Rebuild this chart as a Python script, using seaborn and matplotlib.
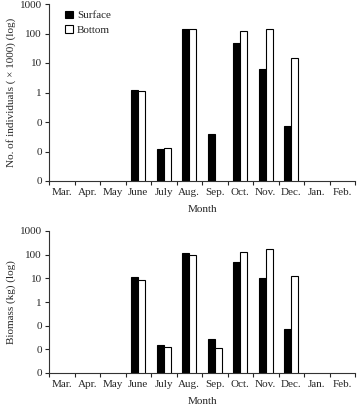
import matplotlib
matplotlib.use("Agg")
import matplotlib.pyplot as plt
from matplotlib.patches import Patch
from matplotlib.ticker import FixedLocator, FixedFormatter
import numpy as np
import pandas as pd
import seaborn as sns

# ---- data ----
months = ["Mar.", "Apr.", "May", "June", "July", "Aug.", "Sep.", "Oct.", "Nov.", "Dec.", "Jan.", "Feb."]
nan = np.nan

ind_surface = [nan, nan, nan, 1.17, 0.0117, 144, 0.038, 47, 6.5, 0.072, nan, nan]
ind_bottom = [nan, nan, nan, 1.1, 0.013, 137, nan, 126, 144, 14.4, nan, nan]

bio_surface = [nan, nan, nan, 11.8, 0.015, 118, 0.027, 47, 10.3, 0.075, nan, nan]
bio_bottom = [nan, nan, nan, 8.6, 0.013, 97, 0.011, 134, 179, 12.6, nan, nan]

ytick_vals = [0.001, 0.01, 0.1, 1, 10, 100, 1000]
ytick_labels = ["0", "0", "0", "1", "10", "100", "1000"]

layers = ["Surface", "Bottom"]
colors = {"Surface": "black", "Bottom": "white"}


def long_df(surface, bottom):
    rows = []
    for m, s, b in zip(months, surface, bottom):
        rows.append({"Month": m, "Layer": "Surface", "Value": s})
        rows.append({"Month": m, "Layer": "Bottom", "Value": b})
    return pd.DataFrame(rows)


sns.set_theme(style="ticks")
plt.rcParams["font.family"] = ["Liberation Serif", "DejaVu Serif"]
FS = 8

fig = plt.figure(figsize=(3.6, 4.07), dpi=100)
ax1 = fig.add_axes([49 / 360, 1 - 181 / 407, 306 / 360, 177 / 407])
ax2 = fig.add_axes([49 / 360, 1 - 373 / 407, 306 / 360, 142 / 407])


def draw(ax, df, ylabel):
    ax.set_yscale("log")
    sns.barplot(data=df, x="Month", y="Value", hue="Layer", order=months,
                hue_order=layers, palette=colors, edgecolor="black",
                linewidth=0.8, width=0.55, gap=0, legend=False, ax=ax)
    ax.set_ylim(0.001, 1000)
    ax.set_xlim(-0.5, len(months) - 0.5)
    ax.yaxis.set_major_locator(FixedLocator(ytick_vals))
    ax.yaxis.set_major_formatter(FixedFormatter(ytick_labels))
    ax.yaxis.set_minor_locator(FixedLocator([]))
    # ticks sit between the months
    ax.set_xticks(np.arange(len(months)))
    ax.set_xticklabels(months)
    ax.set_xticks(np.arange(-0.5, len(months)), minor=True)
    ax.tick_params(axis="x", which="major", length=0, pad=5, labelsize=FS)
    ax.tick_params(axis="x", which="minor", length=3, width=0.8, direction="out")
    ax.tick_params(axis="y", length=3, width=0.8, pad=2, labelsize=FS)
    sns.despine(ax=ax)
    for sp in ("left", "bottom"):
        ax.spines[sp].set_linewidth(0.8)
        ax.spines[sp].set_color("#333333")
    ax.set_xlabel("Month", fontsize=FS, labelpad=6)
    ax.set_ylabel(ylabel, fontsize=FS, labelpad=3)


draw(ax1, long_df(ind_surface, ind_bottom), "No. of individuals ( × 1000) (log)")
draw(ax2, long_df(bio_surface, bio_bottom), "Biomass (kg) (log)")

handles = [Patch(facecolor=colors[k], edgecolor="black", linewidth=0.8, label=k) for k in layers]
ax1.legend(handles=handles, loc="upper left", bbox_to_anchor=(0.03, 1.0), borderaxespad=0.2,
           frameon=False, handlelength=0.7, handleheight=0.7, handletextpad=0.4,
           labelspacing=0.45, fontsize=FS)

fig.savefig("out.png", dpi=100)
